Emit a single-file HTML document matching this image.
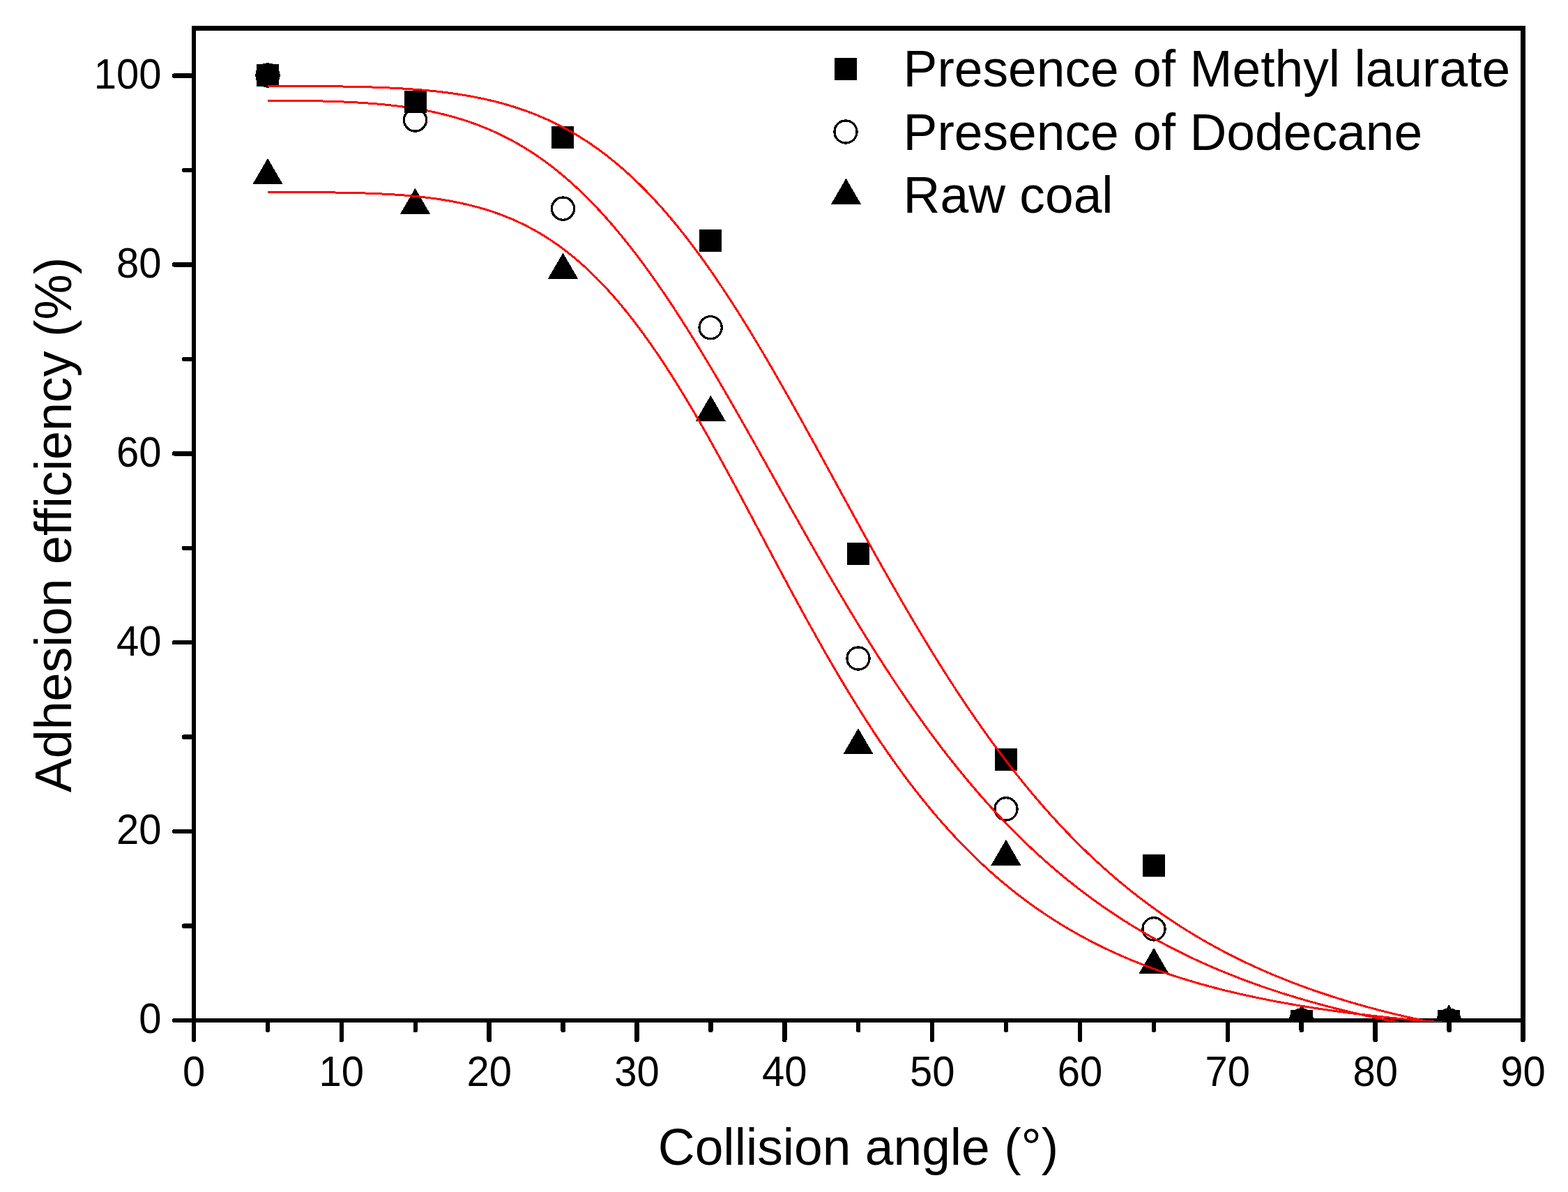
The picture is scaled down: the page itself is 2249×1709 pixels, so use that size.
<!DOCTYPE html>
<html><head><meta charset="utf-8"><style>
html,body{margin:0;padding:0;background:#fff;}
svg{display:block;}
text{font-family:"Liberation Sans",Arial,sans-serif;fill:#000;}
</style></head><body>
<svg width="2249" height="1709" viewBox="0 0 2249 1709" shape-rendering="crispEdges">
<rect width="2249" height="1709" fill="#fff"/>
<defs><clipPath id="pc"><rect x="275" y="37" width="1913" height="1428"/></clipPath></defs>
<g fill="#000">
<rect x="275" y="37" width="6" height="1429"/>
<rect x="2181" y="37" width="7" height="1429"/>
<rect x="275" y="37" width="1913" height="7"/>
<rect x="275" y="1460" width="1913" height="6"/>
</g>
<g stroke="#000" stroke-width="6.5" stroke-linecap="round">
<line x1="278.00" y1="1463" x2="278.00" y2="1491"/><line x1="489.83" y1="1463" x2="489.83" y2="1491"/><line x1="701.66" y1="1463" x2="701.66" y2="1491"/><line x1="913.49" y1="1463" x2="913.49" y2="1491"/><line x1="1125.32" y1="1463" x2="1125.32" y2="1491"/><line x1="1337.15" y1="1463" x2="1337.15" y2="1491"/><line x1="1548.98" y1="1463" x2="1548.98" y2="1491"/><line x1="1760.81" y1="1463" x2="1760.81" y2="1491"/><line x1="1972.64" y1="1463" x2="1972.64" y2="1491"/><line x1="2184.47" y1="1463" x2="2184.47" y2="1491"/><line x1="383.91" y1="1463" x2="383.91" y2="1477"/><line x1="595.75" y1="1463" x2="595.75" y2="1477"/><line x1="807.58" y1="1463" x2="807.58" y2="1477"/><line x1="1019.40" y1="1463" x2="1019.40" y2="1477"/><line x1="1231.24" y1="1463" x2="1231.24" y2="1477"/><line x1="1443.07" y1="1463" x2="1443.07" y2="1477"/><line x1="1654.89" y1="1463" x2="1654.89" y2="1477"/><line x1="1866.72" y1="1463" x2="1866.72" y2="1477"/><line x1="2078.56" y1="1463" x2="2078.56" y2="1477"/><line x1="278" y1="1463.00" x2="250" y2="1463.00"/><line x1="278" y1="1192.10" x2="250" y2="1192.10"/><line x1="278" y1="921.20" x2="250" y2="921.20"/><line x1="278" y1="650.30" x2="250" y2="650.30"/><line x1="278" y1="379.40" x2="250" y2="379.40"/><line x1="278" y1="108.50" x2="250" y2="108.50"/><line x1="278" y1="1327.55" x2="264" y2="1327.55"/><line x1="278" y1="1056.65" x2="264" y2="1056.65"/><line x1="278" y1="785.75" x2="264" y2="785.75"/><line x1="278" y1="514.85" x2="264" y2="514.85"/><line x1="278" y1="243.95" x2="264" y2="243.95"/>
</g>
<g font-size="58" text-anchor="middle"><text transform="translate(278.00,1556.5) scale(1,1.05)">0</text><text transform="translate(489.83,1556.5) scale(1,1.05)">10</text><text transform="translate(701.66,1556.5) scale(1,1.05)">20</text><text transform="translate(913.49,1556.5) scale(1,1.05)">30</text><text transform="translate(1125.32,1556.5) scale(1,1.05)">40</text><text transform="translate(1337.15,1556.5) scale(1,1.05)">50</text><text transform="translate(1548.98,1556.5) scale(1,1.05)">60</text><text transform="translate(1760.81,1556.5) scale(1,1.05)">70</text><text transform="translate(1972.64,1556.5) scale(1,1.05)">80</text><text transform="translate(2184.47,1556.5) scale(1,1.05)">90</text></g>
<g font-size="58" text-anchor="end"><text transform="translate(231.5,1481.30) scale(1,1.05)">0</text><text transform="translate(231.5,1210.40) scale(1,1.05)">20</text><text transform="translate(231.5,939.50) scale(1,1.05)">40</text><text transform="translate(231.5,668.60) scale(1,1.05)">60</text><text transform="translate(231.5,397.70) scale(1,1.05)">80</text><text transform="translate(231.5,126.80) scale(1,1.05)">100</text></g>
<text x="1231" y="1670.2" font-size="73.2" text-anchor="middle">Collision angle (°)</text>
<text transform="translate(101.9,752.5) rotate(-90)" x="0" y="0" font-size="73.6" text-anchor="middle">Adhesion efficiency (%)</text>
<g clip-path="url(#pc)">
<g fill="none" stroke="#000" stroke-width="3.2"><circle cx="384.00" cy="108.00" r="16.1"/><circle cx="595.50" cy="172.00" r="16.1"/><circle cx="807.50" cy="299.10" r="16.1"/><circle cx="1019.10" cy="469.70" r="16.1"/><circle cx="1231.00" cy="944.00" r="16.1"/><circle cx="1443.00" cy="1159.90" r="16.1"/><circle cx="1655.00" cy="1331.90" r="16.1"/><circle cx="1866.50" cy="1463.00" r="16.1"/><circle cx="2078.20" cy="1463.00" r="16.1"/></g>
<path d="M383.91,144.03 L389.21,144.05 L394.51,144.08 L399.80,144.11 L405.10,144.14 L410.39,144.18 L415.69,144.23 L420.99,144.28 L426.28,144.34 L431.58,144.41 L436.87,144.48 L442.17,144.56 L447.46,144.66 L452.76,144.76 L458.06,144.88 L463.35,145.01 L468.65,145.15 L473.94,145.31 L479.24,145.48 L484.53,145.67 L489.83,145.88 L495.13,146.10 L500.42,146.35 L505.72,146.62 L511.01,146.90 L516.31,147.22 L521.60,147.55 L526.90,147.92 L532.20,148.31 L537.49,148.73 L542.79,149.18 L548.08,149.66 L553.38,150.18 L558.67,150.73 L563.97,151.32 L569.27,151.95 L574.56,152.61 L579.86,153.32 L585.15,154.08 L590.45,154.88 L595.75,155.72 L601.04,156.62 L606.34,157.57 L611.63,158.57 L616.93,159.62 L622.22,160.74 L627.52,161.91 L632.82,163.14 L638.11,164.44 L643.41,165.80 L648.70,167.23 L654.00,168.73 L659.29,170.30 L664.59,171.94 L669.89,173.66 L675.18,175.46 L680.48,177.34 L685.77,179.30 L691.07,181.34 L696.36,183.48 L701.66,185.70 L706.96,188.01 L712.25,190.41 L717.55,192.91 L722.84,195.51 L728.14,198.20 L733.43,201.00 L738.73,203.90 L744.03,206.90 L749.32,210.01 L754.62,213.23 L759.91,216.56 L765.21,220.01 L770.50,223.56 L775.80,227.23 L781.10,231.02 L786.39,234.93 L791.69,238.95 L796.98,243.10 L802.28,247.37 L807.58,251.76 L812.87,256.28 L818.17,260.92 L823.46,265.68 L828.76,270.58 L834.05,275.59 L839.35,280.74 L844.65,286.02 L849.94,291.42 L855.24,296.95 L860.53,302.61 L865.83,308.40 L871.12,314.32 L876.42,320.36 L881.72,326.53 L887.01,332.83 L892.31,339.25 L897.60,345.79 L902.90,352.46 L908.19,359.26 L913.49,366.17 L918.79,373.20 L924.08,380.35 L929.38,387.62 L934.67,395.00 L939.97,402.49 L945.26,410.09 L950.56,417.81 L955.86,425.62 L961.15,433.54 L966.45,441.56 L971.74,449.68 L977.04,457.89 L982.33,466.20 L987.63,474.59 L992.93,483.07 L998.22,491.63 L1003.52,500.27 L1008.81,508.99 L1014.11,517.78 L1019.40,526.64 L1024.70,535.56 L1030.00,544.55 L1035.29,553.60 L1040.59,562.70 L1045.88,571.85 L1051.18,581.04 L1056.48,590.28 L1061.77,599.56 L1067.07,608.88 L1072.36,618.22 L1077.66,627.60 L1082.95,637.00 L1088.25,646.42 L1093.55,655.85 L1098.84,665.30 L1104.14,674.76 L1109.43,684.22 L1114.73,693.69 L1120.02,703.15 L1125.32,712.60 L1130.62,722.05 L1135.91,731.48 L1141.21,740.90 L1146.50,750.30 L1151.80,759.68 L1157.09,769.03 L1162.39,778.35 L1167.69,787.64 L1172.98,796.89 L1178.28,806.11 L1183.57,815.28 L1188.87,824.42 L1194.16,833.50 L1199.46,842.54 L1204.76,851.53 L1210.05,860.46 L1215.35,869.34 L1220.64,878.16 L1225.94,886.92 L1231.24,895.61 L1236.53,904.25 L1241.83,912.82 L1247.12,921.32 L1252.42,929.75 L1257.71,938.11 L1263.01,946.40 L1268.31,954.62 L1273.60,962.76 L1278.90,970.83 L1284.19,978.82 L1289.49,986.73 L1294.78,994.57 L1300.08,1002.32 L1305.38,1010.00 L1310.67,1017.59 L1315.97,1025.11 L1321.26,1032.54 L1326.56,1039.88 L1331.85,1047.15 L1337.15,1054.33 L1342.45,1061.43 L1347.74,1068.44 L1353.04,1075.38 L1358.33,1082.22 L1363.63,1088.99 L1368.92,1095.67 L1374.22,1102.26 L1379.52,1108.77 L1384.81,1115.20 L1390.11,1121.55 L1395.40,1127.81 L1400.70,1133.99 L1405.99,1140.09 L1411.29,1146.10 L1416.59,1152.03 L1421.88,1157.89 L1427.18,1163.66 L1432.47,1169.35 L1437.77,1174.96 L1443.07,1180.49 L1448.36,1185.95 L1453.66,1191.32 L1458.95,1196.62 L1464.25,1201.85 L1469.54,1206.99 L1474.84,1212.06 L1480.14,1217.06 L1485.43,1221.98 L1490.73,1226.83 L1496.02,1231.61 L1501.32,1236.32 L1506.61,1240.95 L1511.91,1245.52 L1517.21,1250.02 L1522.50,1254.44 L1527.80,1258.80 L1533.09,1263.10 L1538.39,1267.32 L1543.68,1271.49 L1548.98,1275.59 L1554.28,1279.62 L1559.57,1283.59 L1564.87,1287.50 L1570.16,1291.35 L1575.46,1295.14 L1580.75,1298.87 L1586.05,1302.54 L1591.35,1306.15 L1596.64,1309.71 L1601.94,1313.21 L1607.23,1316.65 L1612.53,1320.04 L1617.82,1323.38 L1623.12,1326.66 L1628.42,1329.89 L1633.71,1333.07 L1639.01,1336.20 L1644.30,1339.27 L1649.60,1342.30 L1654.89,1345.28 L1660.19,1348.22 L1665.49,1351.10 L1670.78,1353.94 L1676.08,1356.74 L1681.37,1359.49 L1686.67,1362.19 L1691.97,1364.85 L1697.26,1367.47 L1702.56,1370.05 L1707.85,1372.58 L1713.15,1375.08 L1718.44,1377.53 L1723.74,1379.95 L1729.04,1382.33 L1734.33,1384.66 L1739.63,1386.97 L1744.92,1389.23 L1750.22,1391.46 L1755.51,1393.65 L1760.81,1395.81 L1766.11,1397.93 L1771.40,1400.02 L1776.70,1402.07 L1781.99,1404.10 L1787.29,1406.09 L1792.58,1408.04 L1797.88,1409.97 L1803.18,1411.87 L1808.47,1413.73 L1813.77,1415.57 L1819.06,1417.38 L1824.36,1419.16 L1829.65,1420.91 L1834.95,1422.63 L1840.25,1424.33 L1845.54,1425.99 L1850.84,1427.64 L1856.13,1429.25 L1861.43,1430.85 L1866.72,1432.41 L1872.02,1433.95 L1877.32,1435.47 L1882.61,1436.96 L1887.91,1438.43 L1893.20,1439.88 L1898.50,1441.30 L1903.80,1442.71 L1909.09,1444.09 L1914.39,1445.45 L1919.68,1446.78 L1924.98,1448.10 L1930.27,1449.40 L1935.57,1450.68 L1940.87,1451.93 L1946.16,1453.17 L1951.46,1454.39 L1956.75,1455.59 L1962.05,1456.77 L1967.34,1457.93 L1972.64,1459.08 L1977.94,1460.21 L1983.23,1461.32 L1988.53,1462.41 L1993.82,1463.49 L1999.12,1464.55 L2004.41,1465.60 L2009.71,1466.63 L2015.01,1467.64 L2020.30,1468.64 L2025.60,1469.62 L2030.89,1470.59 L2036.19,1471.54 L2041.48,1472.48 L2046.78,1473.41 L2052.08,1474.32 L2057.37,1475.22 L2062.67,1476.11 L2067.96,1476.98 L2073.26,1477.84 L2078.56,1478.68" fill="none" stroke="#f00" stroke-width="3"/>
<g fill="#000"><rect x="368.00" y="92.00" width="32" height="32"/><rect x="579.50" y="130.00" width="32" height="32"/><rect x="791.00" y="181.00" width="32" height="32"/><rect x="1003.00" y="328.50" width="32" height="32"/><rect x="1215.00" y="778.00" width="32" height="32"/><rect x="1427.00" y="1073.00" width="32" height="32"/><rect x="1639.00" y="1225.00" width="32" height="32"/><rect x="1851.00" y="1448.00" width="32" height="32"/><rect x="2062.20" y="1448.00" width="32" height="32"/></g>
<path d="M383.91,123.33 L389.21,123.34 L394.51,123.34 L399.80,123.35 L405.10,123.36 L410.39,123.38 L415.69,123.39 L420.99,123.41 L426.28,123.42 L431.58,123.45 L436.87,123.47 L442.17,123.50 L447.46,123.53 L452.76,123.57 L458.06,123.61 L463.35,123.66 L468.65,123.71 L473.94,123.77 L479.24,123.83 L484.53,123.90 L489.83,123.98 L495.13,124.07 L500.42,124.16 L505.72,124.27 L511.01,124.38 L516.31,124.51 L521.60,124.64 L526.90,124.79 L532.20,124.96 L537.49,125.13 L542.79,125.32 L548.08,125.53 L553.38,125.75 L558.67,125.99 L563.97,126.25 L569.27,126.53 L574.56,126.83 L579.86,127.15 L585.15,127.49 L590.45,127.86 L595.75,128.25 L601.04,128.67 L606.34,129.12 L611.63,129.59 L616.93,130.10 L622.22,130.64 L627.52,131.21 L632.82,131.81 L638.11,132.45 L643.41,133.13 L648.70,133.85 L654.00,134.61 L659.29,135.41 L664.59,136.26 L669.89,137.15 L675.18,138.08 L680.48,139.07 L685.77,140.11 L691.07,141.20 L696.36,142.35 L701.66,143.55 L706.96,144.81 L712.25,146.13 L717.55,147.52 L722.84,148.97 L728.14,150.48 L733.43,152.06 L738.73,153.72 L744.03,155.44 L749.32,157.24 L754.62,159.12 L759.91,161.07 L765.21,163.11 L770.50,165.22 L775.80,167.43 L781.10,169.72 L786.39,172.09 L791.69,174.56 L796.98,177.12 L802.28,179.78 L807.58,182.53 L812.87,185.39 L818.17,188.34 L823.46,191.40 L828.76,194.56 L834.05,197.82 L839.35,201.20 L844.65,204.68 L849.94,208.28 L855.24,211.99 L860.53,215.81 L865.83,219.75 L871.12,223.81 L876.42,227.99 L881.72,232.28 L887.01,236.70 L892.31,241.24 L897.60,245.91 L902.90,250.70 L908.19,255.62 L913.49,260.66 L918.79,265.83 L924.08,271.12 L929.38,276.55 L934.67,282.10 L939.97,287.78 L945.26,293.59 L950.56,299.53 L955.86,305.59 L961.15,311.79 L966.45,318.11 L971.74,324.56 L977.04,331.13 L982.33,337.83 L987.63,344.65 L992.93,351.60 L998.22,358.67 L1003.52,365.86 L1008.81,373.17 L1014.11,380.60 L1019.40,388.14 L1024.70,395.79 L1030.00,403.56 L1035.29,411.44 L1040.59,419.42 L1045.88,427.51 L1051.18,435.71 L1056.48,444.00 L1061.77,452.39 L1067.07,460.87 L1072.36,469.44 L1077.66,478.11 L1082.95,486.85 L1088.25,495.68 L1093.55,504.59 L1098.84,513.57 L1104.14,522.62 L1109.43,531.74 L1114.73,540.93 L1120.02,550.17 L1125.32,559.48 L1130.62,568.83 L1135.91,578.23 L1141.21,587.68 L1146.50,597.17 L1151.80,606.70 L1157.09,616.26 L1162.39,625.85 L1167.69,635.47 L1172.98,645.11 L1178.28,654.76 L1183.57,664.43 L1188.87,674.11 L1194.16,683.80 L1199.46,693.48 L1204.76,703.17 L1210.05,712.85 L1215.35,722.53 L1220.64,732.19 L1225.94,741.83 L1231.24,751.46 L1236.53,761.06 L1241.83,770.63 L1247.12,780.18 L1252.42,789.69 L1257.71,799.17 L1263.01,808.61 L1268.31,818.01 L1273.60,827.36 L1278.90,836.67 L1284.19,845.92 L1289.49,855.13 L1294.78,864.27 L1300.08,873.36 L1305.38,882.39 L1310.67,891.36 L1315.97,900.27 L1321.26,909.10 L1326.56,917.87 L1331.85,926.57 L1337.15,935.20 L1342.45,943.76 L1347.74,952.24 L1353.04,960.64 L1358.33,968.97 L1363.63,977.21 L1368.92,985.38 L1374.22,993.47 L1379.52,1001.47 L1384.81,1009.40 L1390.11,1017.23 L1395.40,1024.99 L1400.70,1032.66 L1405.99,1040.24 L1411.29,1047.74 L1416.59,1055.15 L1421.88,1062.47 L1427.18,1069.71 L1432.47,1076.86 L1437.77,1083.92 L1443.07,1090.89 L1448.36,1097.78 L1453.66,1104.57 L1458.95,1111.28 L1464.25,1117.91 L1469.54,1124.44 L1474.84,1130.89 L1480.14,1137.25 L1485.43,1143.52 L1490.73,1149.71 L1496.02,1155.82 L1501.32,1161.83 L1506.61,1167.77 L1511.91,1173.61 L1517.21,1179.38 L1522.50,1185.06 L1527.80,1190.66 L1533.09,1196.17 L1538.39,1201.61 L1543.68,1206.97 L1548.98,1212.24 L1554.28,1217.44 L1559.57,1222.55 L1564.87,1227.59 L1570.16,1232.56 L1575.46,1237.44 L1580.75,1242.25 L1586.05,1246.99 L1591.35,1251.65 L1596.64,1256.24 L1601.94,1260.76 L1607.23,1265.21 L1612.53,1269.59 L1617.82,1273.89 L1623.12,1278.13 L1628.42,1282.30 L1633.71,1286.41 L1639.01,1290.45 L1644.30,1294.42 L1649.60,1298.33 L1654.89,1302.18 L1660.19,1305.96 L1665.49,1309.68 L1670.78,1313.34 L1676.08,1316.95 L1681.37,1320.49 L1686.67,1323.97 L1691.97,1327.40 L1697.26,1330.77 L1702.56,1334.09 L1707.85,1337.35 L1713.15,1340.55 L1718.44,1343.71 L1723.74,1346.81 L1729.04,1349.86 L1734.33,1352.86 L1739.63,1355.81 L1744.92,1358.71 L1750.22,1361.56 L1755.51,1364.36 L1760.81,1367.12 L1766.11,1369.83 L1771.40,1372.50 L1776.70,1375.12 L1781.99,1377.70 L1787.29,1380.24 L1792.58,1382.73 L1797.88,1385.18 L1803.18,1387.59 L1808.47,1389.96 L1813.77,1392.29 L1819.06,1394.59 L1824.36,1396.84 L1829.65,1399.05 L1834.95,1401.23 L1840.25,1403.38 L1845.54,1405.48 L1850.84,1407.56 L1856.13,1409.59 L1861.43,1411.60 L1866.72,1413.57 L1872.02,1415.50 L1877.32,1417.41 L1882.61,1419.28 L1887.91,1421.13 L1893.20,1422.94 L1898.50,1424.72 L1903.80,1426.47 L1909.09,1428.20 L1914.39,1429.89 L1919.68,1431.56 L1924.98,1433.20 L1930.27,1434.81 L1935.57,1436.40 L1940.87,1437.96 L1946.16,1439.49 L1951.46,1441.00 L1956.75,1442.48 L1962.05,1443.94 L1967.34,1445.38 L1972.64,1446.79 L1977.94,1448.18 L1983.23,1449.55 L1988.53,1450.90 L1993.82,1452.22 L1999.12,1453.52 L2004.41,1454.80 L2009.71,1456.06 L2015.01,1457.30 L2020.30,1458.52 L2025.60,1459.72 L2030.89,1460.90 L2036.19,1462.06 L2041.48,1463.20 L2046.78,1464.33 L2052.08,1465.44 L2057.37,1466.52 L2062.67,1467.60 L2067.96,1468.65 L2073.26,1469.69 L2078.56,1470.71" fill="none" stroke="#f00" stroke-width="3"/>
<g fill="#000"><path d="M384.00,226.90 L405.50,263.90 L362.50,263.90 Z"/><path d="M595.50,269.80 L617.00,306.80 L574.00,306.80 Z"/><path d="M807.50,362.50 L829.00,399.50 L786.00,399.50 Z"/><path d="M1019.30,566.80 L1040.80,603.80 L997.80,603.80 Z"/><path d="M1231.00,1044.10 L1252.50,1081.10 L1209.50,1081.10 Z"/><path d="M1442.90,1203.70 L1464.40,1240.70 L1421.40,1240.70 Z"/><path d="M1655.00,1358.90 L1676.50,1395.90 L1633.50,1395.90 Z"/><path d="M1867.00,1440.00 L1888.50,1477.00 L1845.50,1477.00 Z"/><path d="M2078.20,1440.00 L2099.70,1477.00 L2056.70,1477.00 Z"/></g>
<path d="M383.91,275.44 L389.21,275.45 L394.51,275.45 L399.80,275.46 L405.10,275.47 L410.39,275.48 L415.69,275.50 L420.99,275.51 L426.28,275.53 L431.58,275.56 L436.87,275.58 L442.17,275.61 L447.46,275.65 L452.76,275.69 L458.06,275.73 L463.35,275.78 L468.65,275.84 L473.94,275.90 L479.24,275.97 L484.53,276.05 L489.83,276.14 L495.13,276.24 L500.42,276.35 L505.72,276.48 L511.01,276.61 L516.31,276.76 L521.60,276.92 L526.90,277.10 L532.20,277.30 L537.49,277.51 L542.79,277.74 L548.08,277.99 L553.38,278.27 L558.67,278.57 L563.97,278.89 L569.27,279.24 L574.56,279.61 L579.86,280.02 L585.15,280.45 L590.45,280.92 L595.75,281.42 L601.04,281.96 L606.34,282.54 L611.63,283.16 L616.93,283.82 L622.22,284.52 L627.52,285.27 L632.82,286.07 L638.11,286.92 L643.41,287.82 L648.70,288.78 L654.00,289.79 L659.29,290.87 L664.59,292.01 L669.89,293.21 L675.18,294.49 L680.48,295.83 L685.77,297.25 L691.07,298.74 L696.36,300.31 L701.66,301.97 L706.96,303.71 L712.25,305.54 L717.55,307.45 L722.84,309.47 L728.14,311.57 L733.43,313.78 L738.73,316.09 L744.03,318.51 L749.32,321.03 L754.62,323.66 L759.91,326.41 L765.21,329.28 L770.50,332.26 L775.80,335.37 L781.10,338.60 L786.39,341.96 L791.69,345.46 L796.98,349.08 L802.28,352.84 L807.58,356.74 L812.87,360.77 L818.17,364.95 L823.46,369.28 L828.76,373.75 L834.05,378.36 L839.35,383.13 L844.65,388.05 L849.94,393.12 L855.24,398.34 L860.53,403.72 L865.83,409.25 L871.12,414.94 L876.42,420.78 L881.72,426.78 L887.01,432.94 L892.31,439.25 L897.60,445.72 L902.90,452.34 L908.19,459.12 L913.49,466.05 L918.79,473.13 L924.08,480.36 L929.38,487.74 L934.67,495.26 L939.97,502.93 L945.26,510.74 L950.56,518.69 L955.86,526.77 L961.15,534.98 L966.45,543.32 L971.74,551.79 L977.04,560.38 L982.33,569.08 L987.63,577.90 L992.93,586.82 L998.22,595.85 L1003.52,604.98 L1008.81,614.20 L1014.11,623.51 L1019.40,632.90 L1024.70,642.37 L1030.00,651.92 L1035.29,661.53 L1040.59,671.21 L1045.88,680.93 L1051.18,690.72 L1056.48,700.54 L1061.77,710.40 L1067.07,720.30 L1072.36,730.23 L1077.66,740.17 L1082.95,750.13 L1088.25,760.11 L1093.55,770.08 L1098.84,780.06 L1104.14,790.03 L1109.43,799.99 L1114.73,809.93 L1120.02,819.85 L1125.32,829.74 L1130.62,839.60 L1135.91,849.42 L1141.21,859.20 L1146.50,868.93 L1151.80,878.61 L1157.09,888.24 L1162.39,897.80 L1167.69,907.31 L1172.98,916.74 L1178.28,926.11 L1183.57,935.40 L1188.87,944.61 L1194.16,953.75 L1199.46,962.80 L1204.76,971.76 L1210.05,980.63 L1215.35,989.42 L1220.64,998.11 L1225.94,1006.70 L1231.24,1015.20 L1236.53,1023.60 L1241.83,1031.89 L1247.12,1040.09 L1252.42,1048.18 L1257.71,1056.16 L1263.01,1064.04 L1268.31,1071.81 L1273.60,1079.48 L1278.90,1087.04 L1284.19,1094.49 L1289.49,1101.83 L1294.78,1109.06 L1300.08,1116.18 L1305.38,1123.19 L1310.67,1130.10 L1315.97,1136.89 L1321.26,1143.58 L1326.56,1150.16 L1331.85,1156.63 L1337.15,1162.99 L1342.45,1169.25 L1347.74,1175.40 L1353.04,1181.44 L1358.33,1187.38 L1363.63,1193.22 L1368.92,1198.95 L1374.22,1204.58 L1379.52,1210.11 L1384.81,1215.55 L1390.11,1220.88 L1395.40,1226.11 L1400.70,1231.25 L1405.99,1236.29 L1411.29,1241.24 L1416.59,1246.10 L1421.88,1250.86 L1427.18,1255.54 L1432.47,1260.12 L1437.77,1264.62 L1443.07,1269.03 L1448.36,1273.36 L1453.66,1277.60 L1458.95,1281.76 L1464.25,1285.83 L1469.54,1289.83 L1474.84,1293.75 L1480.14,1297.59 L1485.43,1301.36 L1490.73,1305.05 L1496.02,1308.67 L1501.32,1312.21 L1506.61,1315.68 L1511.91,1319.09 L1517.21,1322.43 L1522.50,1325.70 L1527.80,1328.90 L1533.09,1332.04 L1538.39,1335.11 L1543.68,1338.13 L1548.98,1341.08 L1554.28,1343.97 L1559.57,1346.81 L1564.87,1349.58 L1570.16,1352.30 L1575.46,1354.97 L1580.75,1357.58 L1586.05,1360.14 L1591.35,1362.64 L1596.64,1365.10 L1601.94,1367.50 L1607.23,1369.86 L1612.53,1372.17 L1617.82,1374.43 L1623.12,1376.64 L1628.42,1378.81 L1633.71,1380.94 L1639.01,1383.02 L1644.30,1385.06 L1649.60,1387.06 L1654.89,1389.02 L1660.19,1390.94 L1665.49,1392.82 L1670.78,1394.66 L1676.08,1396.47 L1681.37,1398.24 L1686.67,1399.97 L1691.97,1401.67 L1697.26,1403.33 L1702.56,1404.96 L1707.85,1406.56 L1713.15,1408.12 L1718.44,1409.66 L1723.74,1411.16 L1729.04,1412.63 L1734.33,1414.08 L1739.63,1415.49 L1744.92,1416.88 L1750.22,1418.24 L1755.51,1419.57 L1760.81,1420.88 L1766.11,1422.16 L1771.40,1423.41 L1776.70,1424.64 L1781.99,1425.85 L1787.29,1427.03 L1792.58,1428.19 L1797.88,1429.33 L1803.18,1430.44 L1808.47,1431.53 L1813.77,1432.60 L1819.06,1433.65 L1824.36,1434.68 L1829.65,1435.69 L1834.95,1436.68 L1840.25,1437.65 L1845.54,1438.61 L1850.84,1439.54 L1856.13,1440.46 L1861.43,1441.36 L1866.72,1442.24 L1872.02,1443.10 L1877.32,1443.95 L1882.61,1444.78 L1887.91,1445.60 L1893.20,1446.40 L1898.50,1447.19 L1903.80,1447.96 L1909.09,1448.71 L1914.39,1449.46 L1919.68,1450.18 L1924.98,1450.90 L1930.27,1451.60 L1935.57,1452.29 L1940.87,1452.96 L1946.16,1453.63 L1951.46,1454.28 L1956.75,1454.92 L1962.05,1455.54 L1967.34,1456.16 L1972.64,1456.76 L1977.94,1457.36 L1983.23,1457.94 L1988.53,1458.51 L1993.82,1459.07 L1999.12,1459.63 L2004.41,1460.17 L2009.71,1460.70 L2015.01,1461.22 L2020.30,1461.73 L2025.60,1462.24 L2030.89,1462.73 L2036.19,1463.22 L2041.48,1463.69 L2046.78,1464.16 L2052.08,1464.62 L2057.37,1465.07 L2062.67,1465.52 L2067.96,1465.96 L2073.26,1466.38 L2078.56,1466.81" fill="none" stroke="#f00" stroke-width="3"/>
</g>
<g>
<rect x="1196.90" y="82.80" width="32" height="32"/>
<circle cx="1213" cy="189" r="16.1" fill="none" stroke="#000" stroke-width="3.2"/>
<path d="M1213.50,255.75 L1235.00,292.75 L1192.00,292.75 Z"/>
</g>
<g font-size="73.2">
<text x="1295.6" y="124">Presence of Methyl laurate</text>
<text x="1295.6" y="215.2">Presence of Dodecane</text>
<text x="1295.6" y="305.3">Raw coal</text>
</g>
</svg>
</body></html>
